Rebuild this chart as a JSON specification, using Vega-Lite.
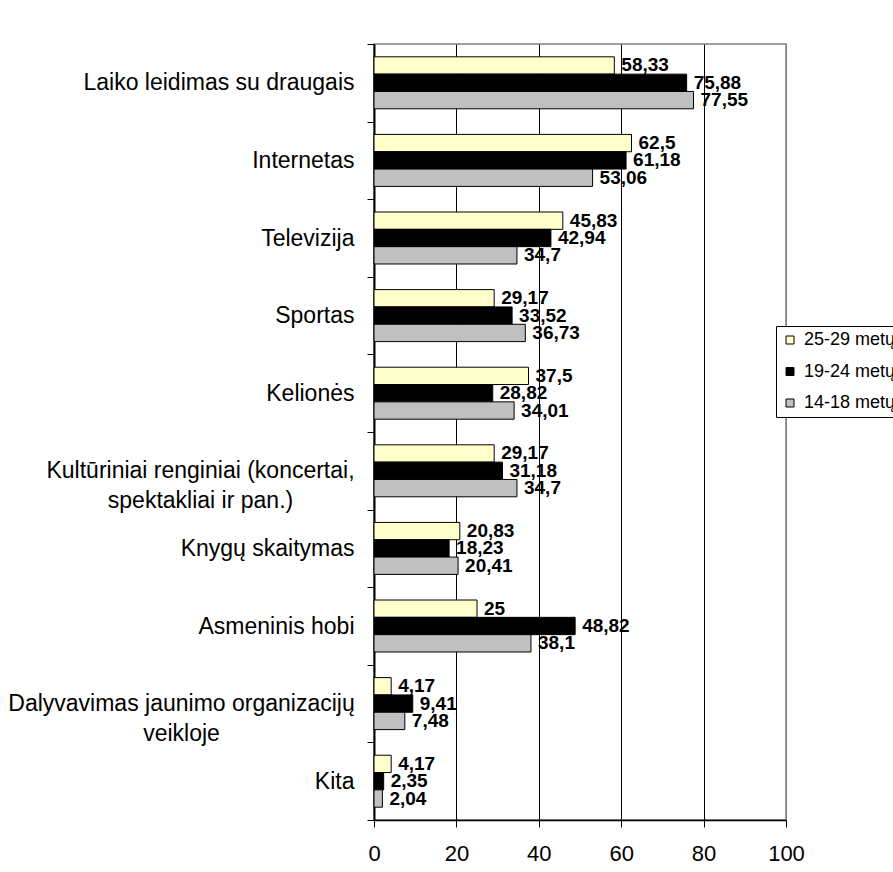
{
  "$schema": "https://vega.github.io/schema/vega-lite/v6.json",
  "width": 412,
  "height": 776,
  "autosize": {"type": "none"},
  "padding": {"left": 374, "top": 44, "right": 107, "bottom": 52},
  "background": "white",
  "data": {
    "values": [
      {"activity": "Laiko leidimas su draugais", "age": "25-29 metų", "value": 58.33, "label": "58,33"},
      {"activity": "Laiko leidimas su draugais", "age": "19-24 metų", "value": 75.88, "label": "75,88"},
      {"activity": "Laiko leidimas su draugais", "age": "14-18 metų", "value": 77.55, "label": "77,55"},
      {"activity": "Internetas", "age": "25-29 metų", "value": 62.5, "label": "62,5"},
      {"activity": "Internetas", "age": "19-24 metų", "value": 61.18, "label": "61,18"},
      {"activity": "Internetas", "age": "14-18 metų", "value": 53.06, "label": "53,06"},
      {"activity": "Televizija", "age": "25-29 metų", "value": 45.83, "label": "45,83"},
      {"activity": "Televizija", "age": "19-24 metų", "value": 42.94, "label": "42,94"},
      {"activity": "Televizija", "age": "14-18 metų", "value": 34.7, "label": "34,7"},
      {"activity": "Sportas", "age": "25-29 metų", "value": 29.17, "label": "29,17"},
      {"activity": "Sportas", "age": "19-24 metų", "value": 33.52, "label": "33,52"},
      {"activity": "Sportas", "age": "14-18 metų", "value": 36.73, "label": "36,73"},
      {"activity": "Kelionės ", "age": "25-29 metų", "value": 37.5, "label": "37,5"},
      {"activity": "Kelionės ", "age": "19-24 metų", "value": 28.82, "label": "28,82"},
      {"activity": "Kelionės ", "age": "14-18 metų", "value": 34.01, "label": "34,01"},
      {"activity": "Kultūriniai renginiai (koncertai,|spektakliai ir pan.)", "age": "25-29 metų", "value": 29.17, "label": "29,17"},
      {"activity": "Kultūriniai renginiai (koncertai,|spektakliai ir pan.)", "age": "19-24 metų", "value": 31.18, "label": "31,18"},
      {"activity": "Kultūriniai renginiai (koncertai,|spektakliai ir pan.)", "age": "14-18 metų", "value": 34.7, "label": "34,7"},
      {"activity": "Knygų skaitymas", "age": "25-29 metų", "value": 20.83, "label": "20,83"},
      {"activity": "Knygų skaitymas", "age": "19-24 metų", "value": 18.23, "label": "18,23"},
      {"activity": "Knygų skaitymas", "age": "14-18 metų", "value": 20.41, "label": "20,41"},
      {"activity": "Asmeninis hobi", "age": "25-29 metų", "value": 25, "label": "25"},
      {"activity": "Asmeninis hobi", "age": "19-24 metų", "value": 48.82, "label": "48,82"},
      {"activity": "Asmeninis hobi", "age": "14-18 metų", "value": 38.1, "label": "38,1"},
      {"activity": "Dalyvavimas jaunimo organizacijų|veikloje", "age": "25-29 metų", "value": 4.17, "label": "4,17"},
      {"activity": "Dalyvavimas jaunimo organizacijų|veikloje", "age": "19-24 metų", "value": 9.41, "label": "9,41"},
      {"activity": "Dalyvavimas jaunimo organizacijų|veikloje", "age": "14-18 metų", "value": 7.48, "label": "7,48"},
      {"activity": "Kita", "age": "25-29 metų", "value": 4.17, "label": "4,17"},
      {"activity": "Kita", "age": "19-24 metų", "value": 2.35, "label": "2,35"},
      {"activity": "Kita", "age": "14-18 metų", "value": 2.04, "label": "2,04"}
    ]
  },
  "encoding": {
    "y": {
      "field": "activity",
      "type": "nominal",
      "sort": null,
      "scale": {"paddingInner": 0, "paddingOuter": 0},
      "axis": {
        "title": null,
        "tickBand": "extent",
        "tickSize": 7,
        "tickColor": "#000000",
        "domainColor": "#000000",
        "domainWidth": 2,
        "labelFont": "Liberation Sans",
        "labelFontSize": 23,
        "labelColor": "#000000",
        "labelLimit": 500,
        "labelLineHeight": 30,
        "labelExpr": "isString(datum.value) ? split(datum.value, '|') : ''",
        "labelAlign": {"condition": {"test": "isString(datum.value) && indexof(datum.value, '|') >= 0", "value": "center"}, "value": "right"},
        "labelPadding": {"condition": [
          {"test": "isString(datum.value) && indexof(datum.value, 'Kult') == 0", "value": 167},
          {"test": "isString(datum.value) && indexof(datum.value, 'Daly') == 0", "value": 186}
        ], "value": 13},
        "grid": false
      }
    },
    "x": {
      "field": "value",
      "type": "quantitative",
      "scale": {"domain": [0, 100], "nice": false},
      "axis": {
        "title": null,
        "values": [0, 20, 40, 60, 80, 100],
        "grid": true,
        "gridColor": {"condition": {"test": "datum.value === 100", "value": "#808080"}, "value": "#000000"},
        "gridWidth": 1,
        "tickSize": 7,
        "tickColor": "#000000",
        "domainColor": "#000000",
        "domainWidth": 1.5,
        "labelFont": "Liberation Sans",
        "labelFontSize": 22,
        "labelColor": "#000000",
        "labelPadding": 16,
        "labelFlush": false
      }
    },
    "yOffset": {
      "field": "age",
      "type": "nominal",
      "sort": null,
      "scale": {"domain": ["25-29 metų", "19-24 metų", "14-18 metų"], "paddingInner": 0, "paddingOuter": 0.739}
    }
  },
  "layer": [
    {
      "mark": {"type": "bar", "stroke": "#000000", "strokeWidth": 1},
      "encoding": {
        "color": {
          "field": "age",
          "type": "nominal",
          "scale": {"domain": ["25-29 metų", "19-24 metų", "14-18 metų"], "range": ["#FFFFCC", "#000000", "#C0C0C0"]},
          "legend": {
            "title": null,
            "orient": "none",
            "legendX": 402,
            "legendY": 282,
            "strokeColor": "#000000",
            "fillColor": "#FFFFFF",
            "padding": 5,
            "symbolType": "square",
            "symbolSize": 64,
            "symbolStrokeColor": "#000000",
            "symbolStrokeWidth": 1,
            "labelFont": "Liberation Sans",
            "labelFontSize": 18,
            "labelColor": "#000000",
            "labelOffset": 5,
            "rowPadding": 13.5,
            "labelLimit": 300
          }
        }
      }
    },
    {
      "mark": {"type": "text", "align": "left", "baseline": "middle", "dx": 7, "font": "Liberation Sans", "fontSize": 19, "fontWeight": "bold", "color": "#000000"},
      "encoding": {
        "text": {"field": "label", "type": "nominal"}
      }
    }
  ],
  "config": {
    "view": {"stroke": "#808080", "strokeWidth": 1.5},
    "font": "Liberation Sans"
  }
}
